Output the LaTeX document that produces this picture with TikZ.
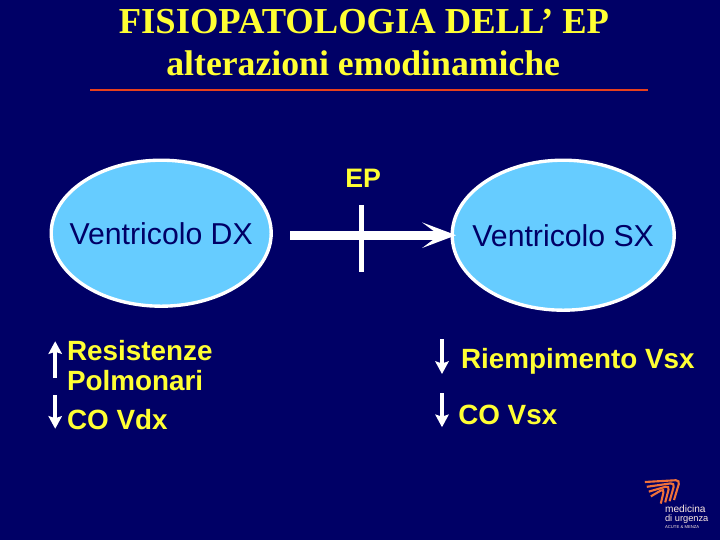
\documentclass[tikz,border=0pt]{standalone}
\usepackage{fontspec}
\setmainfont{Liberation Sans}
\newfontfamily\titlefont{Liberation Serif}
\usetikzlibrary{graphs}
\usetikzlibrary{arrows.meta}
\usetikzlibrary{shapes.geometric}
\definecolor{slide}{HTML}{000066}
\definecolor{sun}{HTML}{FFFF33}
\definecolor{sky}{HTML}{66CCFF}
\definecolor{rule}{HTML}{E8401C}
\definecolor{flame}{HTML}{F0703A}
\tikzset{
  heading/.style= {sun, font=\titlefont\bfseries\fontsize{26}{28}\selectfont},
  subheading/.style= {sun, font=\titlefont\bfseries\fontsize{25.4}{26}\selectfont},
  ventricle/.style= {draw=white, fill=sky, ellipse, line width=2.4pt, inner xsep=-11pt, inner ysep=0, text=slide,
    font=\fontsize{21.5}{26}\selectfont},
  effect/.style= {sun, font=\bfseries\fontsize{19.8}{21.3}\selectfont, anchor=west, align=left, inner sep=0},
  flow/.style= {white, line width=6.2pt, shorten >=-4pt, -{Stealth[length=24pt, width=18pt, inset=12pt]}},
  change/.style= {white, line width=3pt, -{Stealth[length=9pt, width=9.5pt, inset=1.5pt]}},
  brand/.style= {inner sep=0, anchor=west, white!85!flame},
  streak/.style= {flame, line width=1.5pt, rounded corners=3pt},
}

\begin{document}
\begin{tikzpicture}
  \useasboundingbox [fill=slide] (0,0) rectangle (18,-13.5);

  \node [heading] (title) at (9.1,-0.55) {FISIOPATOLOGIA DELL’ EP};
  \node [subheading] (subtitle) at (9.08,-1.58) {alterazioni emodinamiche};
  \coordinate (ruleL) at (2.25,-2.25);
  \coordinate (ruleR) at (16.2,-2.25);
  \draw [rule, line width=1.9pt] (ruleL) -- (ruleR);

  \node [ventricle, minimum width=5.5cm, minimum height=3.65cm] (vdx) at (4.03,-5.83) {Ventricolo DX};
  \node [ventricle, minimum width=5.55cm, minimum height=3.75cm] (vsx) at (14.08,-5.88) {Ventricolo SX};
  \node [sun, font=\bfseries\fontsize{19}{22}\selectfont] (ep) at (9.08,-4.45) {EP};

  \coordinate (start) at (7.25,-5.88);
  \coordinate (barT) at (9.03,-5.12);
  \coordinate (barB) at (9.03,-6.8);
  \draw [white, line width=3.6pt] (barT) -- (barB);
  \graph [edges=flow] {
    (start) -> (vsx) ;
  } ;

  \node [effect] (resist) at (1.67,-9.15) {Resistenze\\Polmonari};
  \node [effect] (codx) at (1.67,-10.5) {CO Vdx};
  \node [effect] (riemp) at (11.52,-9.03) {Riempimento Vsx};
  \node [effect] (cosx) at (11.45,-10.38) {CO Vsx};

  \coordinate (a1) at (1.38,-9.45);
  \coordinate (a2) at (1.38,-8.53);
  \coordinate (b1) at (1.38,-9.88);
  \coordinate (b2) at (1.38,-10.72);
  \coordinate (c1) at (11.05,-8.48);
  \coordinate (c2) at (11.05,-9.35);
  \coordinate (d1) at (11.05,-9.83);
  \coordinate (d2) at (11.05,-10.68);
  \graph [edges=change] {
    (a1) -> (a2) ;
    (b1) -> (b2) ;
    (c1) -> (c2) ;
    (d1) -> (d2) ;
  } ;

  % logo
  \node [brand, font=\fontsize{7.2}{8}\selectfont] (med) at (16.62,-12.72) {medicina};
  \node [brand, font=\fontsize{6.6}{7}\selectfont] (urg) at (16.62,-12.98) {di urgenza};
  \node [brand, font=\fontsize{3}{3}\selectfont] (asso) at (16.62,-13.17) {ACUTE \& MENZA};
  \foreach \i in {0,1,2,3} {
    \draw [streak] (16.12+0.05*\i,-12.05-0.12*\i) -- (17-0.13*\i,-12.0-0.07*\i) -- (16.85-0.11*\i,-12.5-0.03*\i);
  }
\end{tikzpicture}
\end{document}
